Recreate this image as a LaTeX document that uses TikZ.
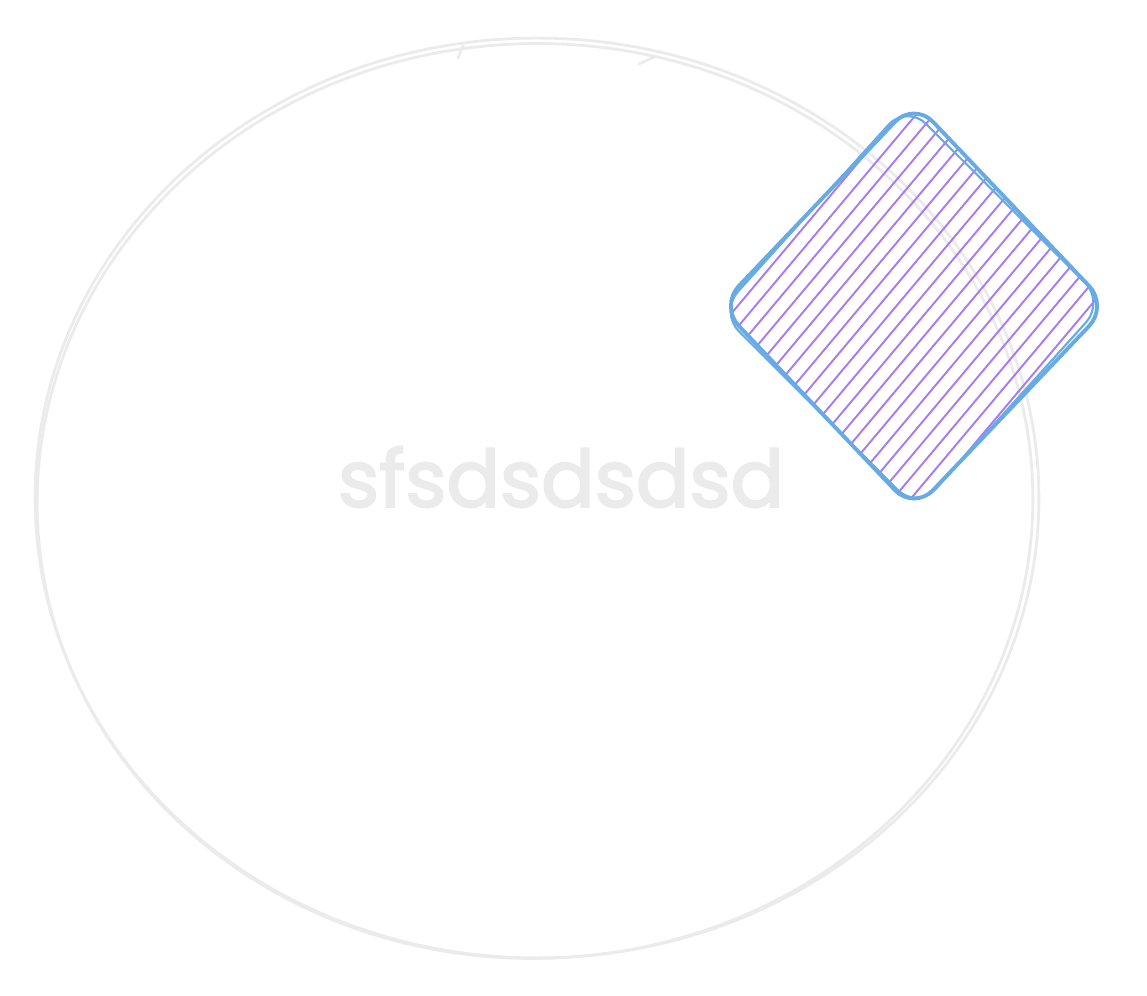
\documentclass[tikz,border=0pt]{standalone}
\usepackage{fontspec}
\setmainfont{Poppins}
\newfontfamily\labelfont[FakeBold=2.5]{Poppins}
\usetikzlibrary{shapes.geometric}
\definecolor{sketchgray}{HTML}{EBEBEB}
\definecolor{strokeblue}{HTML}{67ABE5}
\definecolor{hachure}{HTML}{A67CF6}

\begin{document}
\begin{tikzpicture}[
  x=0.02cm, y=-0.02cm,
  blob/.style={draw=sketchgray, ellipse, line width=1.6pt, inner sep=0pt},
  card/.style={draw=strokeblue, diamond, line width=2.2pt, inner sep=0pt, rounded corners=0.55cm},
  hatch/.style={draw=hachure, line width=1.1pt},
]
\useasboundingbox (0,0) rectangle (1147,996);
% big sketchy ellipse, drawn twice
\node[blob, minimum width=20.08cm, minimum height=18.4cm] (blob) at (537,498) {};
\node[blob, rotate=1.5, minimum width=19.92cm, minimum height=18.3cm] (blobb) at (535,501) {};
\draw[sketchgray, line width=1.6pt, line cap=round] (458,58) -- (463,46);
\draw[sketchgray, line width=1.6pt, line cap=round] (639,64) -- (656,56);
\node[font=\labelfont\fontsize{45}{54}\selectfont, text=sketchgray] (label) at (561,477) {sfsdsdsdsd};
% hatched card
\node[card, minimum width=7.8cm, minimum height=8.2cm,
  path picture={
    \foreach \i in {-11,...,11}
      \draw[hatch] ({\i*10.34-200},{\i*8.68+238}) -- ({\i*10.34+200},{\i*8.68-238});
  }] (card) at (914,306) {};
\node[card, line width=1.2pt, rotate=1.5, minimum width=7.72cm, minimum height=8.12cm] (cardb) at (912,307) {};
\end{tikzpicture}
\end{document}
